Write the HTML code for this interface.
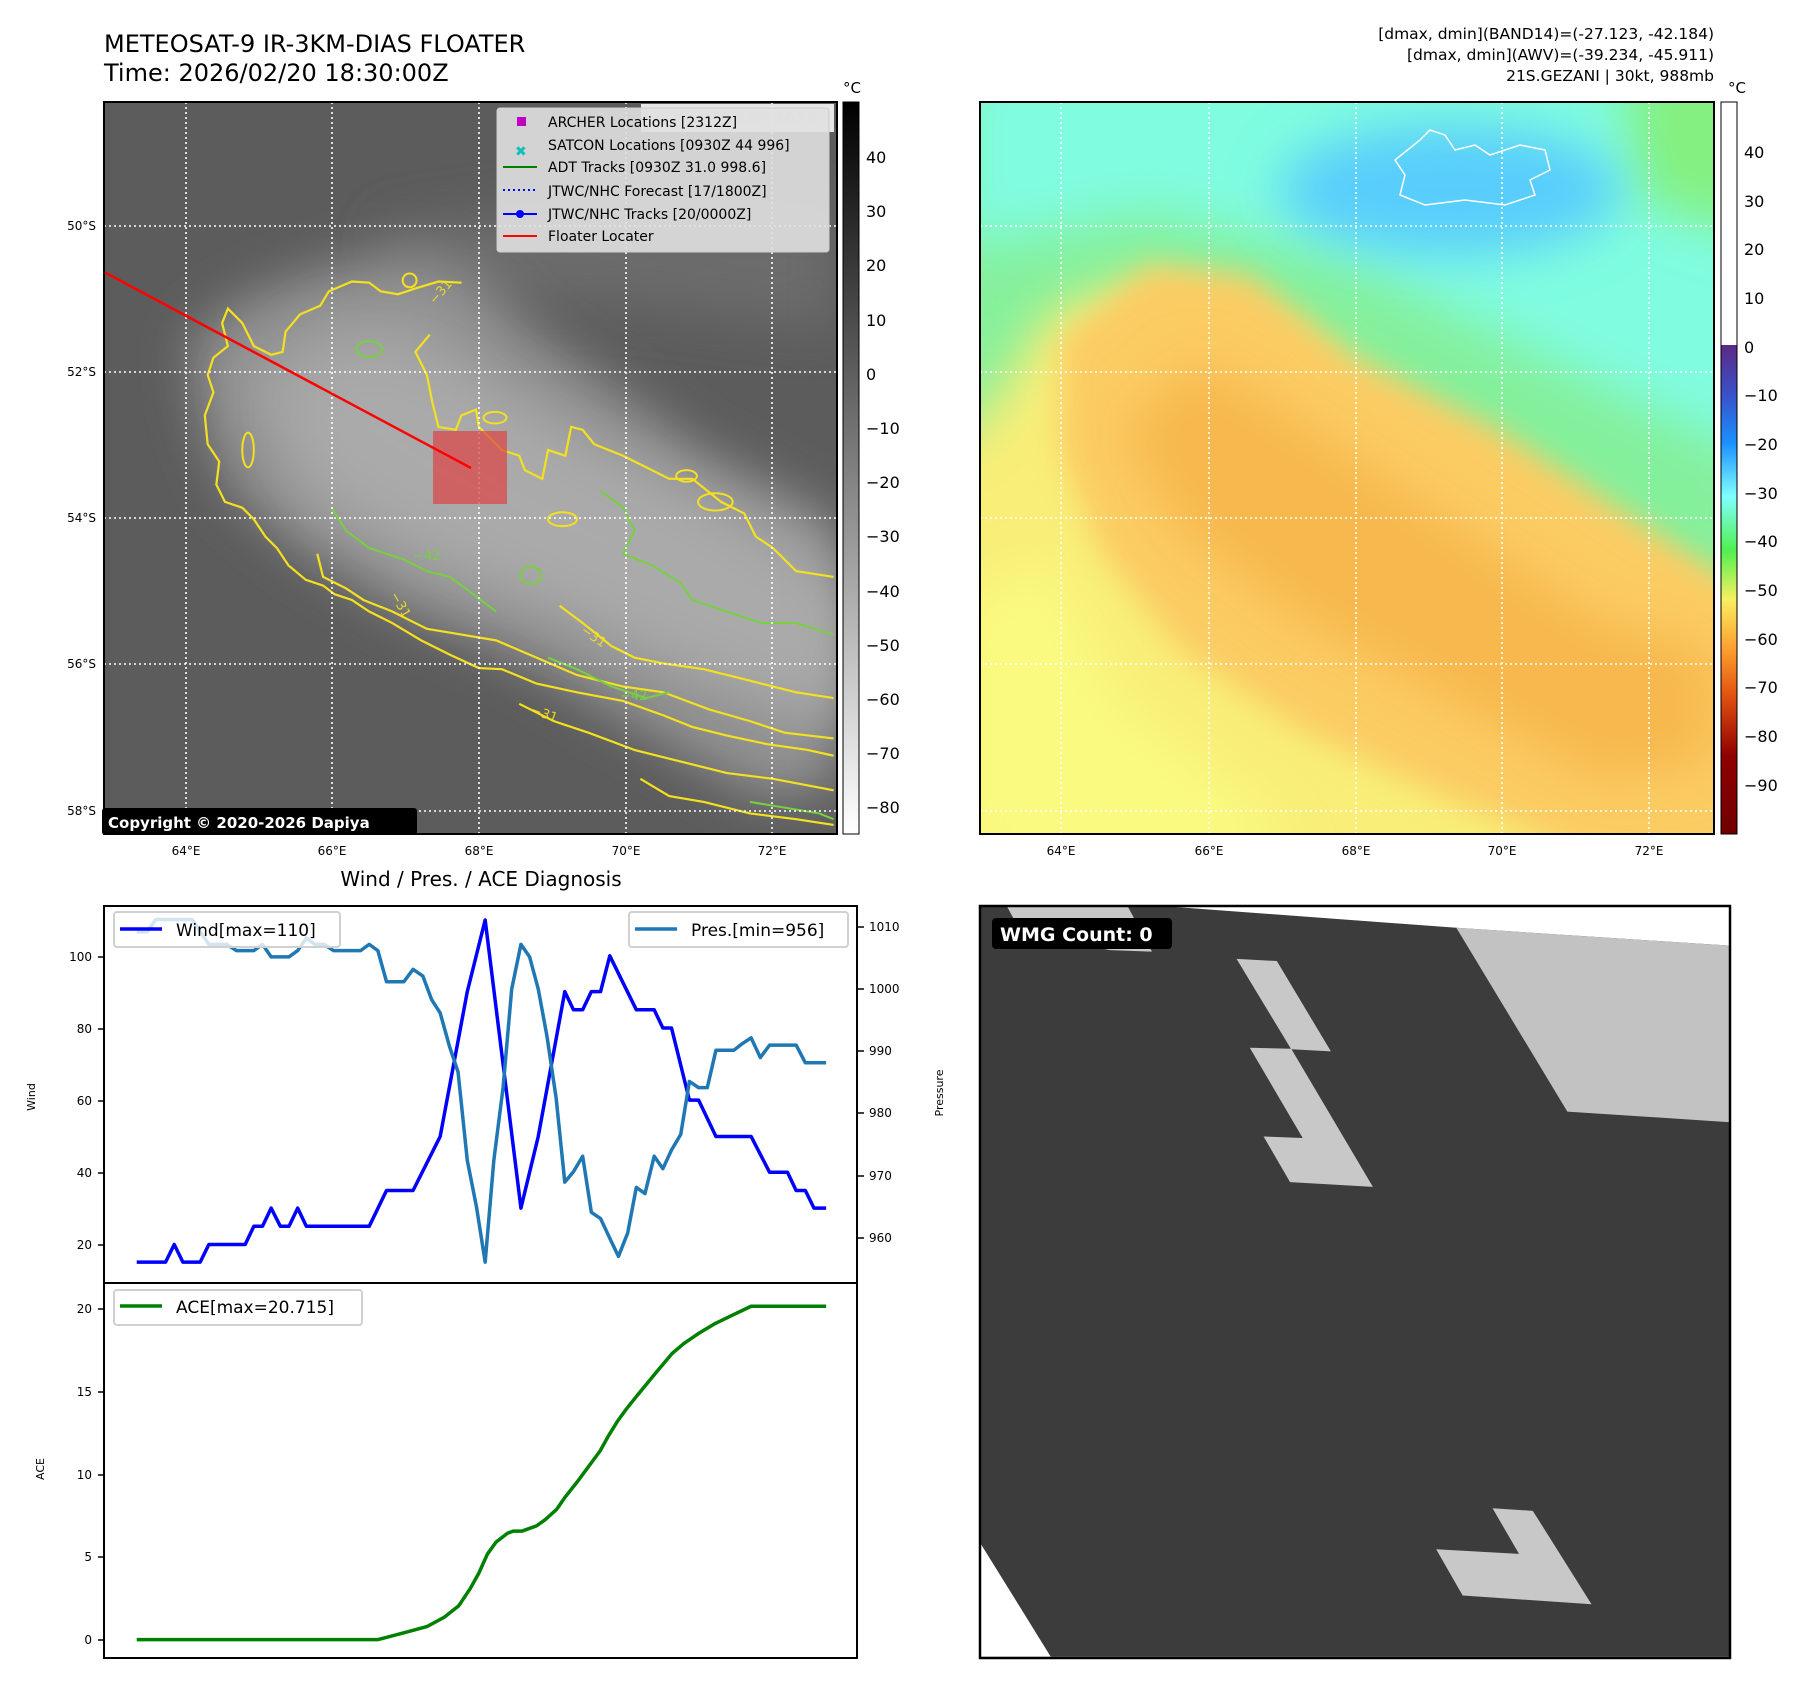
<!DOCTYPE html>
<html><head><meta charset="utf-8"><style>
html,body{margin:0;padding:0;background:#fff;}
svg{display:block;font-family:"DejaVu Sans","Liberation Sans",sans-serif;}
</style></head><body>
<svg width="1797" height="1690" viewBox="0 0 1797 1690" xmlns="http://www.w3.org/2000/svg">
<defs>
<filter id="b25" x="-50%" y="-50%" width="200%" height="200%"><feGaussianBlur stdDeviation="25"/></filter>
<filter id="b15" x="-50%" y="-50%" width="200%" height="200%"><feGaussianBlur stdDeviation="15"/></filter>
<clipPath id="cl"><rect x="104" y="102" width="733" height="732"/></clipPath>
<clipPath id="cr"><rect x="980" y="102" width="734" height="732"/></clipPath>
<clipPath id="cb"><rect x="980" y="906" width="750" height="752"/></clipPath>
<linearGradient id="gbar" x1="0" y1="0" x2="0" y2="1"><stop offset="0" stop-color="#000"/><stop offset="1" stop-color="#fff"/></linearGradient>
<linearGradient id="cbar" x1="0" y1="0" x2="0" y2="1">
<stop offset="0" stop-color="#5b2a86"/><stop offset="0.1" stop-color="#3a50c8"/><stop offset="0.2" stop-color="#1a90ff"/><stop offset="0.31" stop-color="#80ffff"/><stop offset="0.42" stop-color="#50f050"/><stop offset="0.52" stop-color="#f8f060"/><stop offset="0.62" stop-color="#ffa030"/><stop offset="0.72" stop-color="#e05010"/><stop offset="0.84" stop-color="#900000"/><stop offset="1" stop-color="#700000"/></linearGradient>
</defs>

<text x="104" y="52" font-size="24">METEOSAT-9 IR-3KM-DIAS FLOATER</text>
<text x="104" y="81" font-size="24">Time: 2026/02/20 18:30:00Z</text>
<g font-size="15.5" text-anchor="end">
<text x="1714" y="39">[dmax, dmin](BAND14)=(-27.123, -42.184)</text>
<text x="1714" y="60">[dmax, dmin](AWV)=(-39.234, -45.911)</text>
<text x="1714" y="81">21S.GEZANI | 30kt, 988mb</text>
</g>

<!-- LEFT MAP -->
<g clip-path="url(#cl)">
<rect x="104" y="102" width="733" height="732" fill="#5c5c5c"/>
<polygon points="380,230 600,200 837,210 837,330 600,300 420,300" fill="#6c6c6c" filter="url(#b25)"/>
<polygon points="190,340 240,300 320,270 400,250 470,270 530,330 610,385 700,450 837,520 837,790 760,800 640,730 520,660 400,610 300,550 230,490 200,420" fill="#909090" filter="url(#b25)"/>
<polygon points="240,380 330,320 420,320 500,380 620,450 760,520 837,560 837,740 700,690 560,620 420,570 300,500" fill="#a2a2a2" filter="url(#b25)"/>
<polygon points="290,400 360,360 440,380 560,450 700,520 837,600 837,700 700,650 560,590 420,530 320,470" fill="#aaaaaa" filter="url(#b25)"/>
<g transform="scale(0.5769)" fill="none">
<polyline stroke="#f5e020" stroke-width="2.2" points="800,490 760,488 720,500 690,510 660,505 640,490 610,488 570,505 555,530 520,545 495,575 490,610 470,615 440,600 420,560 395,535 385,560 395,600 370,620 360,650 370,680 355,720 360,770 380,800 375,840 390,870 420,880 440,900 460,930 480,950 500,980 530,1005 560,1015 580,1030 610,1040 640,1060 680,1080 730,1110 780,1135 830,1158 870,1160 930,1185 1000,1200 1080,1215 1150,1240 1200,1260 1260,1275 1330,1290 1400,1300 1445,1310" vector-effect="non-scaling-stroke"/>
<polyline stroke="#f5e020" stroke-width="2.2" points="745,580 720,610 740,650 750,700 760,740 790,745 800,720 825,710 830,740 870,780 900,790 910,815 940,830 950,780 980,790 990,740 1010,745 1030,770 1080,790 1120,810 1160,830 1200,830 1250,870 1290,890 1310,930 1340,950 1380,990 1445,1000" vector-effect="non-scaling-stroke"/>
<polyline stroke="#f5e020" stroke-width="2.2" points="550,960 560,1000 600,1020 630,1040 680,1060 740,1090 800,1100 860,1110 930,1140 1000,1170 1080,1190 1150,1200 1230,1230 1300,1250 1360,1270 1445,1280" vector-effect="non-scaling-stroke"/>
<polyline stroke="#f5e020" stroke-width="2.2" points="900,1220 960,1250 1020,1270 1100,1300 1180,1320 1260,1340 1340,1350 1445,1370" vector-effect="non-scaling-stroke"/>
<polyline stroke="#f5e020" stroke-width="2.2" points="1110,1350 1160,1380 1220,1390 1300,1410 1380,1420 1445,1430" vector-effect="non-scaling-stroke"/>
<polyline stroke="#f5e020" stroke-width="2.2" points="970,1050 1010,1080 1060,1120 1100,1140 1150,1150 1220,1160 1300,1180 1380,1200 1445,1210" vector-effect="non-scaling-stroke"/>
<polyline stroke="#78d040" stroke-width="2" points="575,880 600,920 640,950 700,970 740,990 780,1000 820,1030 860,1060" vector-effect="non-scaling-stroke"/>
<polyline stroke="#78d040" stroke-width="2" points="1040,850 1080,880 1100,920 1080,960 1130,980 1180,1010 1200,1040 1260,1060 1320,1080 1380,1080 1445,1100" vector-effect="non-scaling-stroke"/>
<polyline stroke="#78d040" stroke-width="2" points="950,1140 1000,1160 1060,1190 1120,1210 1160,1200" vector-effect="non-scaling-stroke"/>
<polyline stroke="#78d040" stroke-width="2" points="1300,1390 1360,1400 1420,1410 1445,1420" vector-effect="non-scaling-stroke"/>
<ellipse cx="920" cy="997" rx="18" ry="15" stroke="#78d040" stroke-width="2" vector-effect="non-scaling-stroke"/>
<ellipse cx="710" cy="486" rx="12" ry="12" stroke="#f5e020" stroke-width="2" vector-effect="non-scaling-stroke"/>
<ellipse cx="430" cy="780" rx="10" ry="30" stroke="#f5e020" stroke-width="2" vector-effect="non-scaling-stroke"/>
<ellipse cx="1240" cy="870" rx="30" ry="15" stroke="#f5e020" stroke-width="2" vector-effect="non-scaling-stroke"/>
<ellipse cx="1190" cy="825" rx="18" ry="10" stroke="#f5e020" stroke-width="2" vector-effect="non-scaling-stroke"/>
<ellipse cx="858" cy="724" rx="20" ry="10" stroke="#f5e020" stroke-width="2" vector-effect="non-scaling-stroke"/>
<ellipse cx="975" cy="900" rx="25" ry="12" stroke="#f5e020" stroke-width="2" vector-effect="non-scaling-stroke"/>
<ellipse cx="640" cy="605" rx="22" ry="14" stroke="#78d040" stroke-width="2" vector-effect="non-scaling-stroke"/>
</g>
<g fill="#f5e020" font-size="13" opacity="0.9"><text x="435" y="305" transform="rotate(-50 435 305)">−31</text><text x="390" y="595" transform="rotate(60 390 595)">−31</text><text x="580" y="632" transform="rotate(35 580 632)">−31</text><text x="530" y="713" transform="rotate(20 530 713)">−31</text></g>
<g fill="#78d040" font-size="13"><text x="413" y="560">−42</text><text x="620" y="700">−42</text></g>
<g stroke="#fff" stroke-width="1.6" stroke-dasharray="2,3">
<line x1="186" y1="102" x2="186" y2="834"/><line x1="332" y1="102" x2="332" y2="834"/><line x1="479" y1="102" x2="479" y2="834"/><line x1="626" y1="102" x2="626" y2="834"/><line x1="772" y1="102" x2="772" y2="834"/>
<line x1="104" y1="226" x2="837" y2="226"/><line x1="104" y1="372" x2="837" y2="372"/><line x1="104" y1="518" x2="837" y2="518"/><line x1="104" y1="664" x2="837" y2="664"/><line x1="104" y1="811" x2="837" y2="811"/>
</g>
<rect x="433" y="431" width="74" height="73" fill="#dc4646" fill-opacity="0.72"/>
<line x1="104" y1="272" x2="471" y2="468" stroke="#ff0000" stroke-width="2.5"/>
<rect x="641" y="104" width="193" height="28" fill="#fff" fill-opacity="0.85"/>
<text x="651" y="124" font-size="16" font-weight="bold" fill="#ddd">© EUMETSAT 2026</text>
<rect x="497" y="108" width="332" height="144" rx="3" fill="#e0e0e0" fill-opacity="0.9" stroke="#ccc"/>
<rect x="517" y="117" width="9" height="9" fill="#c000c0"/>
<text x="515" y="156" font-size="14" font-weight="bold" fill="#10c0c0">✖</text>
<line x1="503" y1="167" x2="537" y2="167" stroke="#008000" stroke-width="2"/>
<line x1="503" y1="190" x2="537" y2="190" stroke="#0000ff" stroke-width="2" stroke-dasharray="2,3"/>
<line x1="503" y1="214" x2="537" y2="214" stroke="#0000ff" stroke-width="2"/><circle cx="520" cy="214" r="4" fill="#0000ff"/>
<line x1="503" y1="236" x2="537" y2="236" stroke="#ff0000" stroke-width="2"/>
<g font-size="14" fill="#000">
<text x="548" y="127">ARCHER Locations [2312Z]</text>
<text x="548" y="150">SATCON Locations [0930Z 44 996]</text>
<text x="548" y="172">ADT Tracks [0930Z 31.0 998.6]</text>
<text x="548" y="196">JTWC/NHC Forecast [17/1800Z]</text>
<text x="548" y="219">JTWC/NHC Tracks [20/0000Z]</text>
<text x="548" y="241">Floater Locater</text>
</g>
</g>
<rect x="104" y="102" width="733" height="732" fill="none" stroke="#000" stroke-width="2"/>
<rect x="102" y="808" width="315" height="27" rx="3" fill="#000"/>
<text x="108" y="828" font-size="15" font-weight="bold" fill="#fff">Copyright © 2020-2026 Dapiya</text>
<rect x="843" y="102" width="16" height="732" fill="url(#gbar)" stroke="#000" stroke-width="1"/>
<text x="852" y="93" font-size="15" text-anchor="middle">°C</text>
<g font-size="16" fill="#000">
<text x="866" y="163">40</text><text x="866" y="217">30</text><text x="866" y="271">20</text><text x="866" y="326">10</text><text x="866" y="380">0</text><text x="866" y="434">−10</text><text x="866" y="488">−20</text><text x="866" y="542">−30</text><text x="866" y="597">−40</text><text x="866" y="651">−50</text><text x="866" y="705">−60</text><text x="866" y="759">−70</text><text x="866" y="813">−80</text>
</g>
<g font-size="12" fill="#000" text-anchor="end">
<text x="96" y="230">50°S</text><text x="96" y="376">52°S</text><text x="96" y="522">54°S</text><text x="96" y="668">56°S</text><text x="96" y="815">58°S</text>
<text x="1052" y="230">50°S</text><text x="1052" y="376">52°S</text><text x="1052" y="522">54°S</text><text x="1052" y="668">56°S</text><text x="1052" y="815">58°S</text>
</g>
<g font-size="12" fill="#000" text-anchor="middle">
<text x="186" y="855">64°E</text><text x="332" y="855">66°E</text><text x="479" y="855">68°E</text><text x="626" y="855">70°E</text><text x="772" y="855">72°E</text>
<text x="1061" y="855">64°E</text><text x="1209" y="855">66°E</text><text x="1356" y="855">68°E</text><text x="1502" y="855">70°E</text><text x="1649" y="855">72°E</text>
</g>

<!-- RIGHT MAP -->
<g clip-path="url(#cr)">
<rect x="980" y="102" width="734" height="732" fill="#f8ee78"/>
<polygon points="940,60 1760,60 1760,620 1600,570 1450,480 1300,340 1150,280 1050,310 980,420 940,450" fill="#84f09c" filter="url(#b25)"/>
<polygon points="960,60 1760,60 1760,460 1550,360 1350,260 1150,210 1000,240 960,250" fill="#80fce0" filter="url(#b25)"/>
<polygon points="1620,60 1760,60 1760,240 1640,200" fill="#84f080" filter="url(#b25)"/>
<ellipse cx="1450" cy="190" rx="170" ry="65" fill="#58cdfc" filter="url(#b25)"/>
<polygon points="1060,340 1150,265 1250,275 1350,355 1500,430 1714,570 1760,600 1760,860 1600,860 1450,800 1300,730 1180,650 1100,550 1060,450" fill="#fbcc64" filter="url(#b15)"/>
<polygon points="1120,430 1200,360 1300,420 1450,520 1600,620 1714,650 1714,760 1600,780 1450,700 1300,620 1180,530" fill="#f7b84e" filter="url(#b25)"/>
<polygon points="960,600 1050,560 1120,700 1250,800 1300,860 960,860" fill="#fafa80" filter="url(#b25)"/>
<path d="M1420,140 l10,-10 l15,5 l10,15 l20,-5 l15,10 l30,-10 l25,5 l5,20 l-20,10 l5,15 l-30,10 l-40,-5 l-40,5 l-25,-10 l5,-20 l-10,-15 z" fill="none" stroke="#fff" stroke-width="1.5"/>
<g stroke="#fff" stroke-width="1.6" stroke-dasharray="2,3">
<line x1="1061" y1="102" x2="1061" y2="834"/><line x1="1209" y1="102" x2="1209" y2="834"/><line x1="1356" y1="102" x2="1356" y2="834"/><line x1="1502" y1="102" x2="1502" y2="834"/><line x1="1649" y1="102" x2="1649" y2="834"/>
<line x1="980" y1="226" x2="1714" y2="226"/><line x1="980" y1="372" x2="1714" y2="372"/><line x1="980" y1="518" x2="1714" y2="518"/><line x1="980" y1="664" x2="1714" y2="664"/><line x1="980" y1="811" x2="1714" y2="811"/>
</g>
</g>
<rect x="980" y="102" width="734" height="732" fill="none" stroke="#000" stroke-width="2"/>
<rect x="1721" y="102" width="16" height="243" fill="#fff"/>
<rect x="1721" y="345" width="16" height="489" fill="url(#cbar)"/>
<rect x="1721" y="102" width="16" height="732" fill="none" stroke="#000" stroke-width="1"/>
<text x="1737" y="93" font-size="15" text-anchor="middle">°C</text>
<g font-size="16" fill="#000">
<text x="1744" y="158">40</text><text x="1744" y="207">30</text><text x="1744" y="255">20</text><text x="1744" y="304">10</text><text x="1744" y="353">0</text><text x="1744" y="401">−10</text><text x="1744" y="450">−20</text><text x="1744" y="499">−30</text><text x="1744" y="547">−40</text><text x="1744" y="596">−50</text><text x="1744" y="645">−60</text><text x="1744" y="693">−70</text><text x="1744" y="742">−80</text><text x="1744" y="791">−90</text>
</g>

<!-- BOTTOM LEFT -->
<text x="481" y="886" font-size="20" text-anchor="middle">Wind / Pres. / ACE Diagnosis</text>
<g transform="translate(0,880) scale(0.5769,0.5192)" fill="none" stroke-linejoin="round">
<polyline stroke="#0000ff" stroke-width="3.5" vector-effect="non-scaling-stroke" points="237,736 287,736 302,702 317,736 347,736 362,702 425,702 440,667 455,667 470,632 486,667 501,667 516,632 531,667 640,667 670,598 716,598 763,494 810,215 841,77 903,632 933,494 979,215 994,250 1010,250 1025,215 1041,215 1057,146 1103,250 1134,250 1149,285 1164,285 1195,424 1211,424 1241,494 1302,494 1334,563 1365,563 1380,598 1396,598 1411,632 1432,632"/>
<polyline stroke="#1f77b4" stroke-width="3.5" vector-effect="non-scaling-stroke" points="237,100 255,100 270,76 333,76 362,124 393,124 410,136 440,136 455,124 470,148 501,148 516,136 531,112 546,124 562,124 578,136 625,136 640,124 655,136 670,196 700,196 716,172 733,185 748,230 763,256 779,320 794,370 810,540 826,630 841,736 856,540 872,400 887,210 903,124 918,148 933,210 948,300 964,420 979,582 994,562 1010,532 1025,640 1041,652 1057,690 1072,725 1088,680 1103,592 1118,604 1134,532 1149,556 1164,520 1180,490 1195,388 1211,400 1226,400 1241,328 1272,328 1287,315 1302,304 1318,342 1334,318 1380,318 1396,352 1432,352"/>
<polyline stroke="#008000" stroke-width="3.5" vector-effect="non-scaling-stroke" points="237,1463 655,1463 700,1450 740,1438 770,1420 795,1398 815,1365 830,1335 845,1298 860,1275 880,1258 890,1254 905,1254 930,1244 945,1232 965,1212 980,1188 1000,1160 1020,1130 1040,1100 1055,1070 1070,1043 1085,1020 1100,999 1120,972 1140,945 1165,912 1185,893 1210,874 1240,854 1270,838 1302,821 1432,821"/>
</g>
<rect x="104" y="906" width="753" height="752" fill="none" stroke="#000" stroke-width="2"/>
<line x1="104" y1="1283" x2="857" y2="1283" stroke="#000" stroke-width="2"/>
<g stroke="#000" stroke-width="1.5">
<line x1="98" y1="957" x2="104" y2="957"/><line x1="98" y1="1029" x2="104" y2="1029"/><line x1="98" y1="1101" x2="104" y2="1101"/><line x1="98" y1="1173" x2="104" y2="1173"/><line x1="98" y1="1245" x2="104" y2="1245"/>
<line x1="857" y1="927" x2="864" y2="927"/><line x1="857" y1="989" x2="864" y2="989"/><line x1="857" y1="1051" x2="864" y2="1051"/><line x1="857" y1="1113" x2="864" y2="1113"/><line x1="857" y1="1176" x2="864" y2="1176"/><line x1="857" y1="1238" x2="864" y2="1238"/>
<line x1="98" y1="1309" x2="104" y2="1309"/><line x1="98" y1="1392" x2="104" y2="1392"/><line x1="98" y1="1475" x2="104" y2="1475"/><line x1="98" y1="1557" x2="104" y2="1557"/><line x1="98" y1="1640" x2="104" y2="1640"/>
</g>
<g font-size="12" text-anchor="end">
<text x="92" y="961">100</text><text x="92" y="1033">80</text><text x="92" y="1105">60</text><text x="92" y="1177">40</text><text x="92" y="1249">20</text>
<text x="92" y="1313">20</text><text x="92" y="1396">15</text><text x="92" y="1479">10</text><text x="92" y="1561">5</text><text x="92" y="1644">0</text>
</g>
<g font-size="12">
<text x="869" y="931">1010</text><text x="869" y="993">1000</text><text x="869" y="1055">990</text><text x="869" y="1117">980</text><text x="869" y="1180">970</text><text x="869" y="1242">960</text>
</g>
<text font-size="11" transform="translate(35,1097) rotate(-90)" text-anchor="middle">Wind</text>
<text font-size="11" transform="translate(44,1469) rotate(-90)" text-anchor="middle">ACE</text>
<text font-size="11" transform="translate(943,1093) rotate(-90)" text-anchor="middle">Pressure</text>
<rect x="114" y="912" width="226" height="35" rx="3" fill="#fff" fill-opacity="0.8" stroke="#d0d0d0" stroke-width="2"/>
<line x1="120" y1="929" x2="162" y2="929" stroke="#0000ff" stroke-width="3.5"/>
<text x="176" y="936" font-size="17">Wind[max=110]</text>
<rect x="629" y="912" width="219" height="35" rx="3" fill="#fff" fill-opacity="0.8" stroke="#d0d0d0" stroke-width="2"/>
<line x1="635" y1="929" x2="677" y2="929" stroke="#1f77b4" stroke-width="3.5"/>
<text x="691" y="936" font-size="17">Pres.[min=956]</text>
<rect x="114" y="1290" width="248" height="35" rx="3" fill="#fff" fill-opacity="0.8" stroke="#d0d0d0" stroke-width="2"/>
<line x1="120" y1="1306" x2="162" y2="1306" stroke="#008000" stroke-width="3.5"/>
<text x="176" y="1313" font-size="17">ACE[max=20.715]</text>

<!-- BOTTOM RIGHT -->
<g clip-path="url(#cb)">
<g transform="translate(900,880) scale(0.5753,0.5192)">
<rect x="130" y="45" width="1320" height="1451" fill="#3c3c3c"/>
<polygon points="393,45 1450,45 1450,127 967,92" fill="#fff"/>
<polygon points="183,45 393,45 438,138 365,135 210,100" fill="#c8c8c8"/>
<polygon points="967,92 1450,127 1450,467 1160,446" fill="#c2c2c2"/>
<polygon points="585,152 655,156 749,330 680,326" fill="#c8c8c8"/>
<polygon points="608,323 680,325 822,591 678,582 632,494 700,497" fill="#c8c8c8"/>
<polygon points="1030,1210 1100,1215 1202,1395 978,1378 932,1289 1076,1298" fill="#c8c8c8"/>
<polygon points="130,1260 262,1496 130,1496" fill="#fff"/>
</g>
</g>
<rect x="980" y="906" width="750" height="752" fill="none" stroke="#000" stroke-width="2.5"/>
<rect x="992" y="918" width="180" height="31" rx="4" fill="#000"/>
<text x="1000" y="941" font-size="19" font-weight="bold" fill="#fff">WMG Count: 0</text>
</svg>
</body></html>
